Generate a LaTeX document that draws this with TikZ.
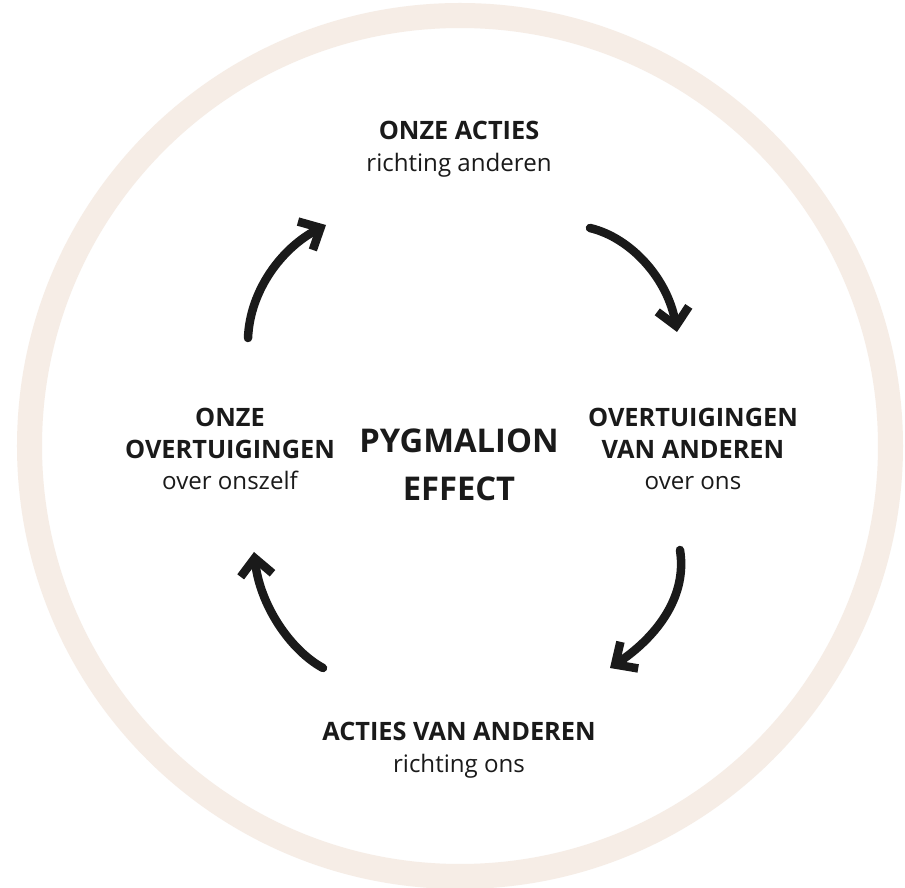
\documentclass[tikz,border=0pt]{standalone}
\usepackage{fontspec}
\setmainfont{Open Sans}
\usetikzlibrary{arrows.meta}
\definecolor{ringbeige}{HTML}{F6EDE6}
\definecolor{inkblack}{HTML}{1A1A1A}
\newcommand{\capsline}[1]{{\fontsize{7.2}{9}\selectfont\bfseries #1}}
\tikzset{
  stagelabel/.style={align=center,text=inkblack,font=\fontsize{6.85}{9}\selectfont},
  cyclearrow/.style={draw=inkblack,line width=0.085cm,line cap=round,
    -{Straight Barb[length=0.17cm,width=0.32cm,line width=0.085cm]}}
}
\begin{document}
\begin{tikzpicture}[x=0.01cm,y=-0.01cm]
  \useasboundingbox[fill=white] (0,0) rectangle (905,888);
  \draw[ringbeige,line width=0.25cm] (460,446) circle[radius=430.5];

  \node[align=center,text=inkblack,font=\fontsize{9.3}{13.6}\selectfont\bfseries] (title) at (459,465) {PYGMALION\\EFFECT};

  \node[stagelabel] (top) at (459,149) {\capsline{ONZE ACTIES}\\richting anderen};
  \node[stagelabel] (right) at (693,449) {\capsline{OVERTUIGINGEN}\\\capsline{VAN ANDEREN}\\over ons};
  \node[stagelabel] (bottom) at (459,750) {\capsline{ACTIES VAN ANDEREN}\\richting ons};
  \node[stagelabel] (left) at (230,449) {\capsline{ONZE}\\\capsline{OVERTUIGINGEN}\\over onszelf};

  % arrow ends
  \coordinate (a1) at (248,338);
  \coordinate (b1) at (326,225);
  \coordinate (a2) at (590,228);
  \coordinate (b2) at (677,332);
  \coordinate (a3) at (680,550);
  \coordinate (b3) at (610,668);
  \coordinate (a4) at (323,668);
  \coordinate (b4) at (254,552);

  \draw[cyclearrow] (a1) .. controls (250,290) and (282,248) .. (b1);
  \draw[cyclearrow] (a2) .. controls (632,238) and (668,280) .. (b2);
  \draw[cyclearrow] (a3) .. controls (688,600) and (652,640) .. (b3);
  \draw[cyclearrow] (a4) .. controls (290,650) and (260,605) .. (b4);
\end{tikzpicture}
\end{document}
